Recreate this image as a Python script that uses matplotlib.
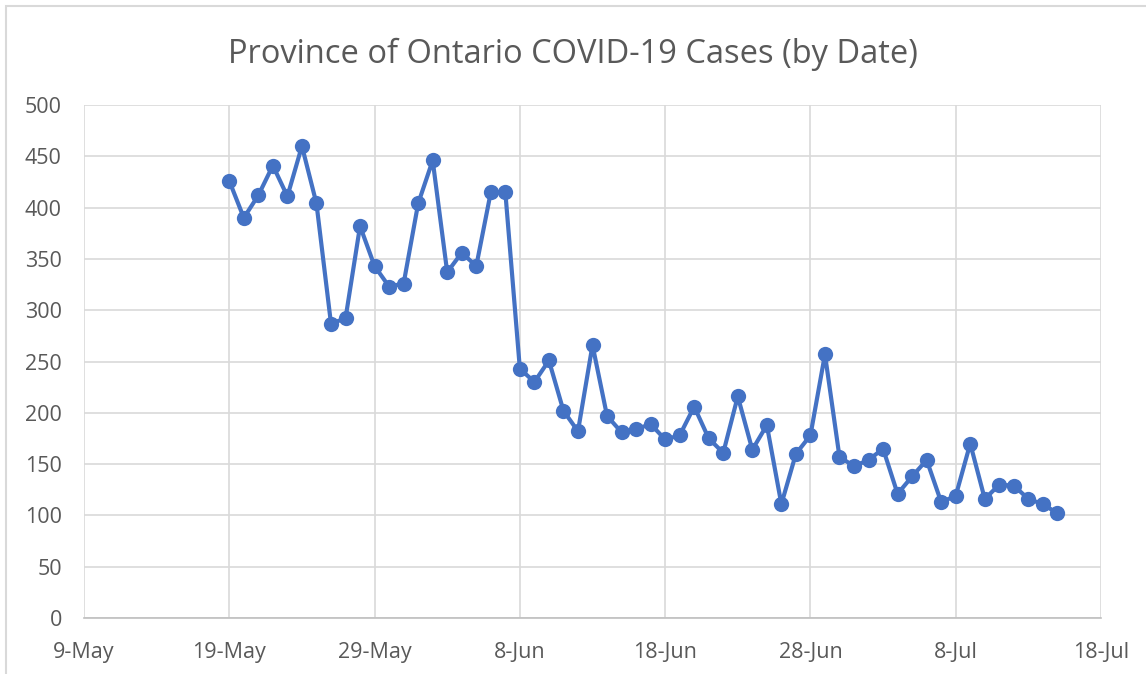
import numpy as np
import pandas as pd
import matplotlib
matplotlib.use("Agg")
import matplotlib.pyplot as plt
from matplotlib.patches import Rectangle

# Daily new cases, 19-May-2020 .. 15-Jul-2020
START = "2020-05-19"
CASES = [
    426, 390, 412, 441, 411, 460, 404, 287, 292, 382,
    343, 323, 326, 404, 446, 337, 356, 343, 415, 415,
    243, 230, 251, 202, 182, 266, 197, 181, 184, 189,
    174, 178, 206, 175, 161, 216, 164, 188, 111, 160,
    178, 257, 157, 148, 154, 165, 121, 138, 154, 113,
    119, 170, 116, 130, 129, 116, 111, 102,
]
dates = pd.date_range(START, periods=len(CASES), freq="D")

X_TICKS = pd.date_range("2020-05-09", "2020-07-18", freq="10D")
Y_TICKS = np.arange(0, 501, 50)

GREY_TXT = "#595959"
GRID = "#d9d9d9"
BLUE = "#4472c4"

plt.rcParams["font.family"] = ["Open Sans", "DejaVu Sans"]

W, H = 1146, 674
fig = plt.figure(figsize=(W / 100, H / 100), dpi=100)

# chart border (only top/left visible in the original crop)
fig.patches.append(Rectangle((6 / W, -0.1), 1.2, (H - 6) / H + 0.1,
                             transform=fig.transFigure, fill=False,
                             edgecolor="#d9d9d9", lw=1.5))

ax = fig.add_axes([84 / W, (H - 618) / H, (1101 - 84) / W, (618 - 105) / H])
ax.plot(dates, CASES, color=BLUE, lw=3, marker="o", ms=11,
        markeredgewidth=0, solid_joinstyle="round")

ax.set_xlim(X_TICKS[0], X_TICKS[-1])
ax.set_ylim(0, 500)
ax.set_xticks(X_TICKS)
ax.set_xticklabels([f"{d.day}-{d.strftime('%b')}" for d in X_TICKS])
ax.set_yticks(Y_TICKS)

ax.grid(True, color=GRID, lw=1.2)
ax.set_axisbelow(True)
for s in ["top", "right", "left"]:
    ax.spines[s].set_visible(False)
ax.spines["bottom"].set_color("#bfbfbf")
ax.spines["bottom"].set_linewidth(1.2)
ax.tick_params(length=0, labelsize=15.5, colors=GREY_TXT)
ax.tick_params(axis="x", pad=17)
ax.tick_params(axis="y", pad=16)

fig.text(0.5, (H - 54) / H, "Province of Ontario COVID-19 Cases (by Date)",
         ha="center", va="center", fontsize=23.5, color=GREY_TXT)

fig.savefig("out.png", dpi=100)
